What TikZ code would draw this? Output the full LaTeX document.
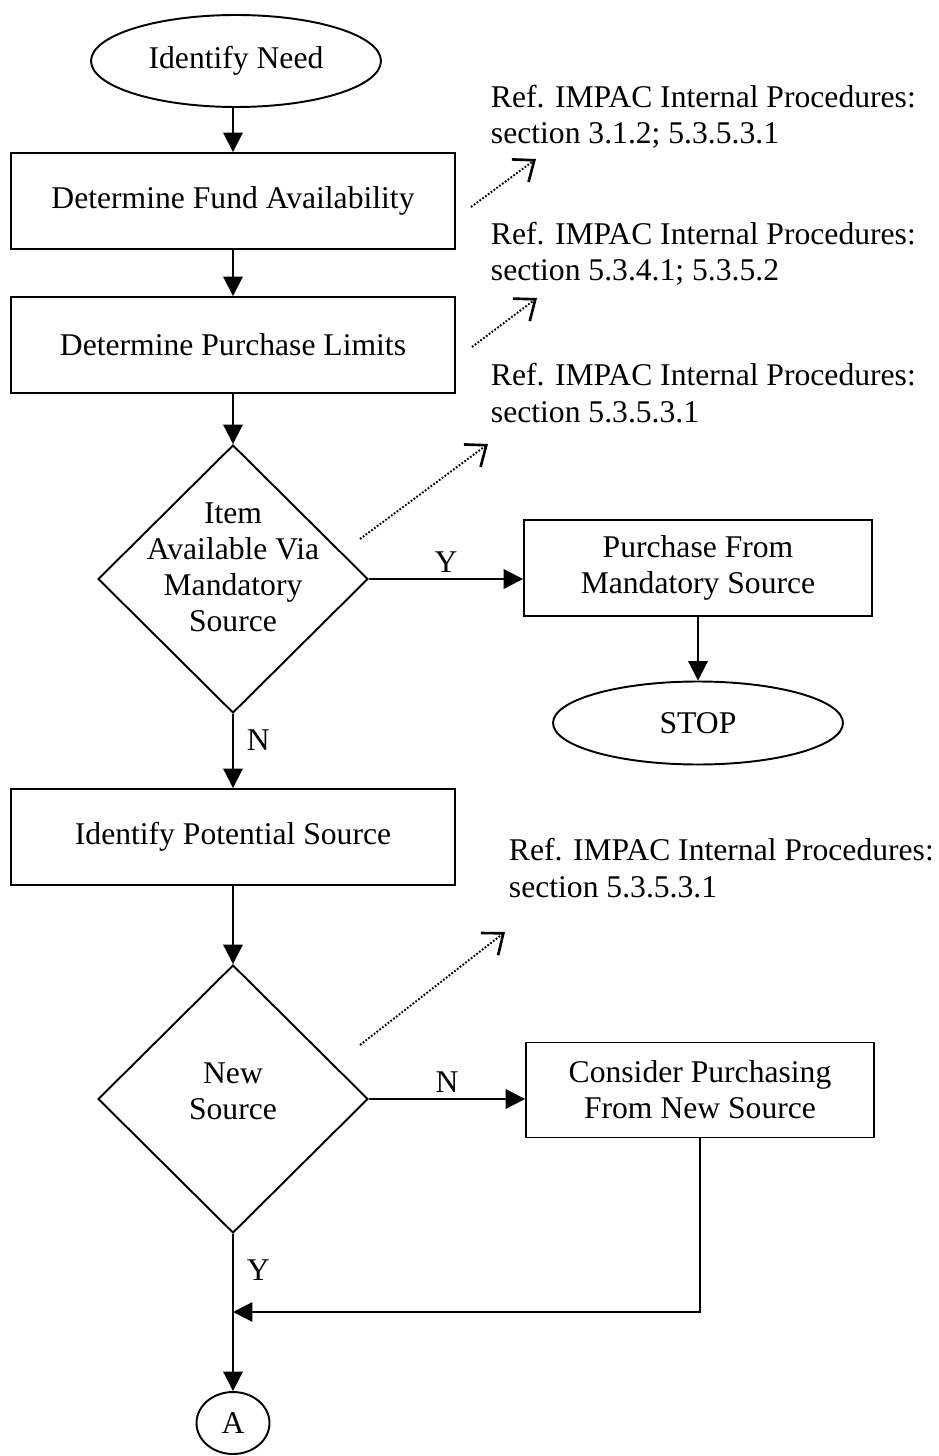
\documentclass[tikz,border=0pt]{standalone}
\usepackage{fontspec}
\setmainfont{Liberation Serif}
\usetikzlibrary{shapes.geometric,arrows.meta}

\begin{document}
\begin{tikzpicture}[x=0.02cm,y=-0.02cm,line width=1.1pt,
  every node/.style={font=\fontsize{18}{20.5}\selectfont},
  proc/.style={draw,rectangle,minimum width=8.9cm,minimum height=1.92cm,align=center,inner sep=0pt},
  term/.style={draw,ellipse,inner sep=0pt},
  decide/.style={draw,diamond,minimum width=5.4cm,minimum height=5.36cm,inner sep=0pt},
  flow/.style={-{Triangle[length=11pt,width=11pt]}},
  refline/.style={line width=1.1pt,dash pattern=on 1pt off 1pt,-{Straight Barb[length=10pt,width=16pt,line width=1.5pt]}},
  reftext/.style={anchor=base west,align=left,inner sep=0pt}]
\useasboundingbox (0,0) rectangle (938,1456);

\node[term,minimum width=5.8cm,minimum height=1.84cm] (need) at (236,61) {Identify Need};
\node[proc] (fund) at (233,201) {Determine Fund Availability};
\node[proc] (limit) at (233,345) {Determine Purchase Limits};
\node[decide] (mand) at (233,579) {};
\node[align=center] (mandtxt) at (233,567) {Item\\Available Via\\Mandatory\\Source};
\node[proc,minimum width=6.96cm] (buy) at (698,568) {Purchase From\\Mandatory Source};
\node[term,minimum width=5.8cm,minimum height=1.66cm] (stop) at (698,723) {STOP};
\node[proc] (pot) at (233,837) {Identify Potential Source};
\node[decide] (new) at (233,1099) {};
\node[align=center] (newtxt) at (233,1091) {New\\Source};
\node[proc,minimum width=6.96cm,minimum height=1.9cm] (cons) at (700,1090) {Consider Purchasing\\From New Source};
\node[term,minimum width=1.46cm,minimum height=1.24cm] (conA) at (233,1423) {A};
\coordinate (merge) at (233,1312);

\draw[flow] (need.south -| fund) -- (fund);
\draw[flow] (fund) -- (limit);
\draw[flow] (limit) -- (mand);
\draw[flow] (mand.east) -- (mand.east -| buy.west) node[midway,above] {Y};
\draw[flow] (buy) -- (stop);
\draw[flow] (mand) -- (pot) node[pos=.35,right=4pt] {N};
\draw[flow] (pot) -- (new);
\draw[flow] (new.east) -- (new.east -| cons.west) node[midway,above] {N};
\draw[flow] (cons.south) |- (merge);
\draw[flow] (new) -- (conA) node[pos=.23,right=4pt] {Y};

\coordinate (f1) at (471,207);
\coordinate (t1) at (536,159);
\coordinate (f2) at (472,347);
\coordinate (t2) at (537,298);
\coordinate (f3) at (360,539);
\coordinate (t3) at (488,444);
\coordinate (f4) at (360,1045);
\coordinate (t4) at (505,932);
\draw[refline] (f1) -- (t1);
\draw[refline] (f2) -- (t2);
\draw[refline] (f3) -- (t3);
\draw[refline] (f4) -- (t4);

\node[reftext] (ref1) at (490,144) {Ref. IMPAC Internal Procedures:\\section 3.1.2; 5.3.5.3.1};
\node[reftext] (ref2) at (490,281) {Ref. IMPAC Internal Procedures:\\section 5.3.4.1; 5.3.5.2};
\node[reftext] (ref3) at (490,422) {Ref. IMPAC Internal Procedures:\\section 5.3.5.3.1};
\node[reftext] (ref4) at (508,897) {Ref. IMPAC Internal Procedures:\\section 5.3.5.3.1};
\end{tikzpicture}
\end{document}
